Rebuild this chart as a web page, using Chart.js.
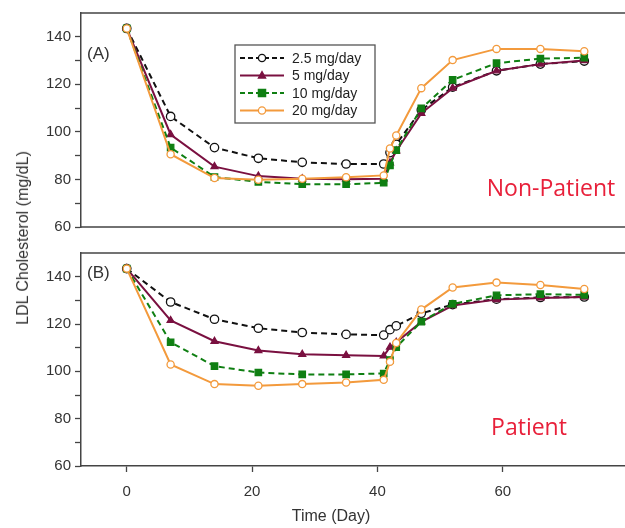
<!DOCTYPE html>
<html><head><meta charset="utf-8">
<script src="https://cdn.jsdelivr.net/npm/chart.js@4.4.0/dist/chart.umd.min.js"></script>
<style>
html,body{margin:0;padding:0;background:#fff;width:625px;height:528px;overflow:hidden;position:relative;font-family:"Liberation Sans",Arial,sans-serif;}
#ca{position:absolute;left:0;top:0;}
#cb{position:absolute;left:0;top:240px;}
#ytitle{position:absolute;left:23px;top:238px;transform:translate(-50%,-50%) rotate(-90deg);white-space:nowrap;font-size:16px;color:#333;}
</style></head><body>
<canvas id="ca" width="625" height="240"></canvas>
<canvas id="cb" width="625" height="288"></canvas>
<div id="ytitle">LDL Cholesterol (mg/dL)</div>
<script>
// ---- data ----
const days = [0, 7, 14, 21, 28, 35, 41, 42, 43, 47, 52, 59, 66, 73];
const doseLabels = ['2.5 mg/day', '5 mg/day', '10 mg/day', '20 mg/day'];
const xTickValues = [0, 20, 40, 60];
const yTickValues = [60, 70, 80, 90, 100, 110, 120, 130, 140];

// Panel A: Non-Patient
const nonPatient_2_5 = [143.5, 106.5, 93.4, 88.9, 87.2, 86.5, 86.5, 91.3, 94.8, 109.2, 118.8, 125.7, 128.5, 129.8];
const nonPatient_5   = [143.5, 98.9, 85.4, 81.4, 80.3, 80.1, 80.3, 87.0, 92.0, 107.8, 118.4, 125.7, 128.5, 130.0];
const nonPatient_10  = [143.5, 93.4, 81.0, 79.0, 78.0, 78.0, 78.6, 85.9, 92.3, 109.9, 121.9, 128.9, 130.8, 131.2];
const nonPatient_20  = [143.5, 90.6, 80.6, 79.9, 80.3, 80.9, 81.7, 93.0, 98.5, 118.4, 130.2, 134.9, 134.9, 133.9];

// Panel B: Patient
const patient_2_5 = [143.4, 129.3, 122.0, 118.2, 116.4, 115.6, 115.3, 117.6, 119.2, 124.5, 128.2, 130.5, 131.2, 131.4];
const patient_5   = [143.4, 121.5, 112.7, 108.8, 107.2, 106.8, 106.5, 110.2, 112.3, 120.9, 127.8, 130.3, 131.0, 131.4];
const patient_10  = [143.4, 112.3, 102.2, 99.5, 98.7, 98.7, 99.1, 104.8, 110.2, 121.0, 128.5, 132.1, 132.6, 132.3];
const patient_20  = [143.4, 102.9, 94.6, 93.9, 94.6, 95.3, 96.4, 104.0, 112.0, 126.1, 135.4, 137.5, 136.5, 134.8];

// ---- styles ----
const seriesStyle = [
  {color:'#111111', dash:[6,4], pointStyle:'circle', fill:'#ffffff', radius:4.2},
  {color:'#7a1040', dash:[], pointStyle:'triangle', fill:'#7a1040', radius:4},
  {color:'#0f7f12', dash:[6,4], pointStyle:'rect', fill:'#0f7f12', radius:4.5},
  {color:'#f39a3c', dash:[], pointStyle:'circle', fill:'#ffffff', radius:3.6}
];

function makeDatasets(seriesList) {
  return seriesList.map((vals, i) => {
    const s = seriesStyle[i];
    return {
      label: doseLabels[i],
      data: days.map((d, j) => ({x: d, y: vals[j]})),
      borderColor: s.color,
      borderWidth: 2,
      borderDash: s.dash,
      pointStyle: s.pointStyle,
      pointRadius: s.radius,
      pointBackgroundColor: s.fill,
      pointBorderColor: s.color,
      pointBorderWidth: 1.3,
      tension: 0,
      fill: false,
      order: 4 - i
    };
  });
}

function drawMarker(ctx, style, x, y, r, fill, stroke) {
  ctx.save();
  ctx.setLineDash([]);
  ctx.fillStyle = fill; ctx.strokeStyle = stroke; ctx.lineWidth = 1.3;
  ctx.beginPath();
  if (style === 'circle') {
    ctx.arc(x, y, r, 0, Math.PI * 2);
  } else if (style === 'rect') {
    ctx.rect(x - r, y - r, 2 * r, 2 * r);
  } else if (style === 'triangle') {
    ctx.moveTo(x, y - r * 1.1);
    ctx.lineTo(x + r, y + r * 0.7);
    ctx.lineTo(x - r, y + r * 0.7);
    ctx.closePath();
  }
  ctx.fill(); ctx.stroke();
  ctx.restore();
}

const panelPlugin = {
  id: 'panelDecor',
  afterDraw(chart, args, opts) {
    const {ctx, chartArea: a} = chart;
    ctx.save();
    ctx.strokeStyle = '#444'; ctx.lineWidth = 1.5; ctx.setLineDash([]);
    ctx.beginPath();
    ctx.moveTo(a.left, a.top); ctx.lineTo(a.right, a.top);
    if (opts.bottomLine) { ctx.moveTo(a.left, a.bottom); ctx.lineTo(a.right, a.bottom); }
    ctx.stroke();
    ctx.fillStyle = '#333';
    ctx.font = '17px "Liberation Sans", Arial, sans-serif';
    ctx.textBaseline = 'middle'; ctx.textAlign = 'left';
    ctx.fillText(opts.tag, a.left + 6, a.top + opts.tagDy);
    ctx.fillStyle = '#e8203a';
    ctx.font = opts.labelFont;
    ctx.textAlign = 'center';
    ctx.fillText(opts.label, opts.labelX, a.top + opts.labelDy);
    if (opts.xTitle) {
      ctx.fillStyle = '#333';
      ctx.font = '16px "Liberation Sans", Arial, sans-serif';
      ctx.textAlign = 'center'; ctx.textBaseline = 'middle';
      ctx.fillText(opts.xTitle, opts.xTitleX, a.bottom + opts.xTitleDy);
    }
    if (opts.legend) {
      const L = opts.legend;
      ctx.fillStyle = '#fff';
      ctx.fillRect(L.x, L.y, L.w, L.h);
      ctx.strokeStyle = '#555'; ctx.lineWidth = 1.3;
      ctx.strokeRect(L.x, L.y, L.w, L.h);
      ctx.font = '14px "Liberation Sans", Arial, sans-serif';
      ctx.textAlign = 'left'; ctx.textBaseline = 'middle';
      chart.data.datasets.forEach((ds, i) => {
        const s = seriesStyle[i];
        const yy = L.y + 13 + i * 17.5;
        ctx.strokeStyle = s.color; ctx.lineWidth = 2;
        ctx.setLineDash(s.dash.length ? [5, 3] : []);
        ctx.beginPath(); ctx.moveTo(L.x + 5, yy); ctx.lineTo(L.x + 49, yy); ctx.stroke();
        drawMarker(ctx, s.pointStyle, L.x + 27, yy, Math.min(s.radius, 3.6), s.fill, s.color);
        ctx.fillStyle = '#222';
        ctx.fillText(ds.label, L.x + 57, yy + 1);
      });
    }
    ctx.restore();
  }
};

function yScale() {
  return {
    type: 'linear', min: 60, max: 150,
    afterBuildTicks: s => { s.ticks = yTickValues.map(v => ({value: v})); },
    afterFit: s => { s.width = 81; },
    ticks: {
      callback: v => (v % 20 === 0 ? String(v) : ''),
      color: '#333', font: {size: 15, family: '"Liberation Sans", Arial, sans-serif'}, padding: 4
    },
    grid: {drawOnChartArea: false, drawTicks: true, tickLength: 6, tickColor: '#444', tickWidth: 1.3},
    border: {display: true, color: '#444', width: 1.5}
  };
}

function xScale(show) {
  return {
    type: 'linear', min: -7.3, max: 79.5, display: show,
    afterBuildTicks: s => { s.ticks = xTickValues.map(v => ({value: v})); },
    afterFit: s => { s.height = show ? 62 : 0; },
    ticks: {color: '#333', font: {size: 15, family: '"Liberation Sans", Arial, sans-serif'}, padding: 11, maxRotation: 0},
    grid: {drawOnChartArea: false, drawTicks: true, tickLength: 6, tickColor: '#444', tickWidth: 1.3},
    border: {display: true, color: '#444', width: 1.5},
    title: {display: false}
  };
}

const common = {
  responsive: false, animation: false,
  plugins: {legend: {display: false}, tooltip: {enabled: false}}
};

new Chart(document.getElementById('ca'), {
  type: 'line',
  data: {datasets: makeDatasets([nonPatient_2_5, nonPatient_5, nonPatient_10, nonPatient_20])},
  options: Object.assign({}, common, {
    layout: {autoPadding: false, padding: {top: 12, bottom: 9, left: 0, right: 0}},
    scales: {x: xScale(false), y: yScale()},
    plugins: Object.assign({}, common.plugins, {
      panelDecor: {tag: '(A)', tagDy: 41, bottomLine: true,
        label: 'Non-Patient', labelX: 551, labelDy: 176,
        labelFont: '23px "Open Sans", "Noto Sans", sans-serif',
        legend: {x: 235, y: 45, w: 140, h: 78}}
    })
  }),
  plugins: [panelPlugin]
});

new Chart(document.getElementById('cb'), {
  type: 'line',
  data: {datasets: makeDatasets([patient_2_5, patient_5, patient_10, patient_20])},
  options: Object.assign({}, common, {
    layout: {autoPadding: false, padding: {top: 8, bottom: 0, left: 0, right: 0}},
    scales: {x: xScale(true), y: yScale()},
    plugins: Object.assign({}, common.plugins, {
      panelDecor: {tag: '(B)', tagDy: 20, bottomLine: false,
        label: 'Patient', labelX: 529, labelDy: 175,
        labelFont: '23px "Open Sans", "Noto Sans", sans-serif',
        xTitle: 'Time (Day)', xTitleX: 331, xTitleDy: 51,
        legend: null}
    })
  }),
  plugins: [panelPlugin]
});
</script>
</body></html>
